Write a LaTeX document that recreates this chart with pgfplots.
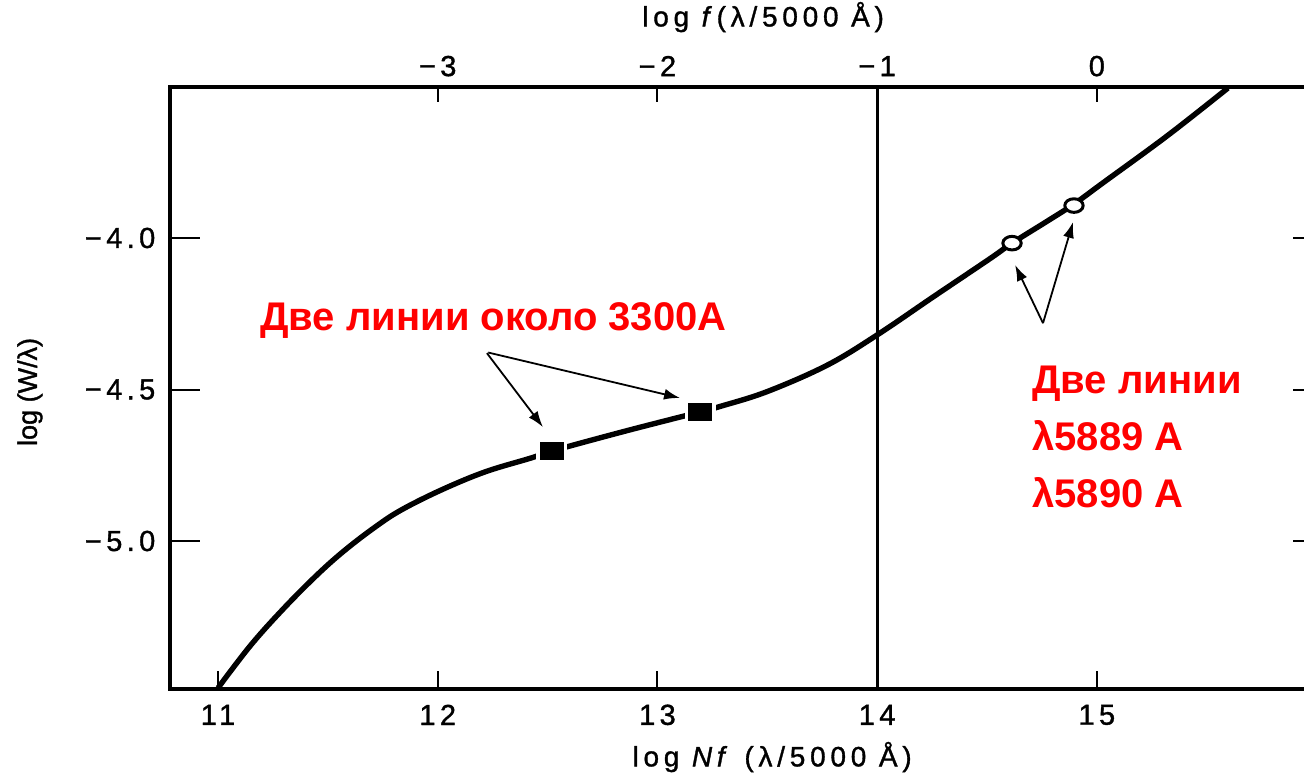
\documentclass[border=0pt]{standalone}
\usepackage{fontspec}
\setmainfont{Liberation Sans}
\newfontfamily\tickfont[LetterSpace=15, FakeBold=1.2]{Liberation Sans}
\newfontfamily\titlefont[LetterSpace=17, FakeBold=1.2]{Liberation Sans}
\newfontfamily\ylabfont[FakeBold=1.2]{Liberation Sans}
\usepackage{pgfplots}
\pgfplotsset{compat=1.18}
\usetikzlibrary{arrows.meta}
\definecolor{annot}{RGB}{255,0,0}

\pgfplotsset{
  frame/.style={
    x=109.85pt, y=151.5pt,
    xmin=10.78, xmax=16.03, ymin=-5.488, ymax=-3.502,
    tick align=inside,
    tick style={line width=1pt, black},
    axis line style={line width=2pt},
  },
  ticklab/.style={font=\tickfont\fontsize{14.5}{17}\selectfont},
}
\newcommand\redtext{\fontsize{20}{24}\selectfont\bfseries\color{annot}}

\begin{document}
\begin{tikzpicture}
% frame, y ticks and the curve
\begin{axis}[frame,
  xtick=\empty,
  ytick={-5,-4.5,-4}, yticklabels={−5.0,−4.5,−4.0},
  ytick pos=both, yticklabel pos=left,
  major tick length=15pt,
  yticklabel style={ticklab, anchor=east, inner sep=0pt, xshift=-7pt},
]
  % log Nf = 14 reference line
  \addplot[black, line width=1.5pt] coordinates {(14,-5.488) (14,-3.502)};
  % curve of growth
  \addplot[black, line width=2.7pt, smooth, tension=0.6] coordinates {
    (11.000,-5.485) (11.150,-5.343) (11.305,-5.218) (11.455,-5.109)
    (11.578,-5.030) (11.715,-4.954) (11.833,-4.898) (12.015,-4.832)
    (12.215,-4.772) (12.425,-4.726) (12.520,-4.703) (12.850,-4.638)
    (13.194,-4.574) (13.285,-4.556) (13.499,-4.507) (13.772,-4.420)
    (14.000,-4.320) (14.254,-4.195) (14.514,-4.068) (14.614,-4.017)
    (14.773,-3.945) (14.896,-3.888) (15.028,-3.818) (15.320,-3.663)
    (15.597,-3.505)};
  % lines near 3300 A: white halo, then the filled box
  \addplot[only marks, mark=square*, mark size=4.25pt,
    mark options={draw=white, fill=white, line width=4pt, xscale=1.35}]
    coordinates {(12.520,-4.703) (13.194,-4.574)};
  \addplot[only marks, mark=square*, mark size=4.25pt,
    mark options={draw=black, fill=black, line width=0.6pt, xscale=1.35, rounded corners=1pt}]
    coordinates {(12.520,-4.703) (13.194,-4.574)};
  % D lines 5889/5890
  \addplot[only marks, mark=*, mark size=3.4pt,
    mark options={draw=black, fill=white, line width=1.5pt, xscale=1.35}]
    coordinates {(14.614,-4.017) (14.896,-3.893)};
\end{axis}
% bottom scale and annotations
\begin{axis}[frame,
  clip=false,
  axis line style={draw=none},
  ytick=\empty,
  xtick={11,12,13,14,15}, xticklabels={11,12,13,14,15},
  xtick pos=left, xticklabel pos=left,
  major tick length=9pt,
  xticklabel style={ticklab, anchor=center, yshift=-13pt},
]
  \coordinate (bbsw) at (axis cs:10.0077,-5.782);
  \coordinate (bbne) at (axis cs:15.943,-3.2145);
  \node[font=\titlefont\fontsize{14}{17}\selectfont, anchor=center]
    at (axis cs:13.522,-5.713) {log \textit{Nf} (λ/5000 Å)};
  \node[font=\titlefont\fontsize{14}{17}\selectfont, anchor=center]
    at (axis cs:13.481,-3.271) {log \textit{f}(λ/5000 Å)};
  \node[font=\ylabfont\fontsize{13.5}{16}\selectfont, rotate=90, anchor=center]
    at (axis cs:10.144,-4.508) {log (W/λ)};
  % arrows
  \draw[line width=0.9pt, -{Latex[length=8pt,width=5.5pt]}]
    (axis cs:12.224,-4.380) -- (axis cs:12.479,-4.624);
  \draw[line width=0.9pt, -{Latex[length=8pt,width=5.5pt]}]
    (axis cs:12.230,-4.378) -- (axis cs:13.103,-4.528);
  \draw[line width=0.9pt, -{Latex[length=8pt,width=5.5pt]}]
    (axis cs:14.755,-4.281) -- (axis cs:14.628,-4.089);
  \draw[line width=0.9pt, -{Latex[length=8pt,width=5.5pt]}]
    (axis cs:14.755,-4.281) -- (axis cs:14.892,-3.947);
  % red notes
  \node[anchor=base west, inner sep=0pt, font=\redtext]
    at (axis cs:11.191,-4.304) {Две линии около 3300А};
  \node[anchor=base west, inner sep=0pt, font=\redtext]
    at (axis cs:14.705,-4.512) {Две линии};
  \node[anchor=base west, inner sep=0pt, font=\redtext]
    at (axis cs:14.705,-4.700) {λ5889 А};
  \node[anchor=base west, inner sep=0pt, font=\redtext]
    at (axis cs:14.705,-4.888) {λ5890 А};
\end{axis}
% top scale: log f
\begin{axis}[frame,
  xmin=-4.22, xmax=1.03,
  axis line style={draw=none},
  ytick=\empty,
  xtick={-3,-2,-1,0}, xticklabels={−3,−2,−1,0},
  xtick pos=right, xticklabel pos=right,
  major tick length=7.5pt,
  xticklabel style={ticklab, anchor=center, yshift=10.5pt},
]
\end{axis}
\pgfresetboundingbox
\useasboundingbox (bbsw) rectangle (bbne);
\end{tikzpicture}
\end{document}
